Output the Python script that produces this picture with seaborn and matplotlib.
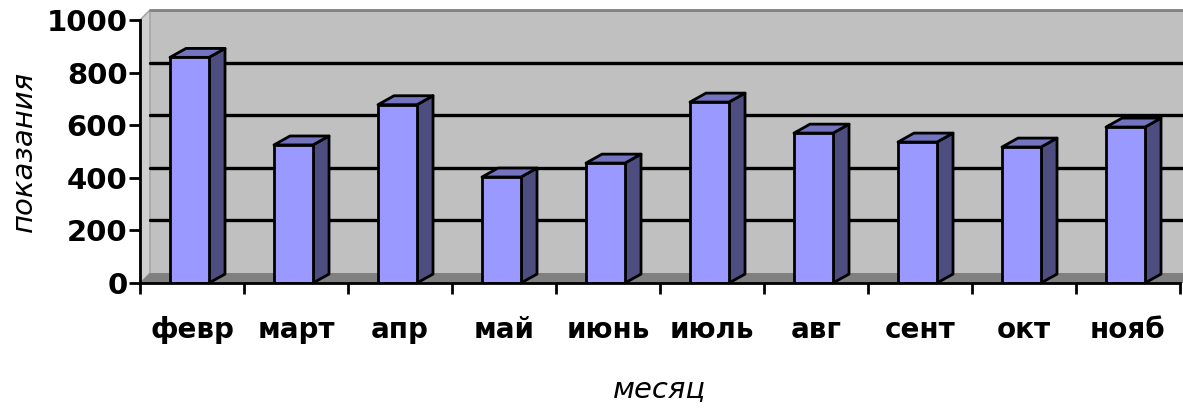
import numpy as np
import pandas as pd
import matplotlib
matplotlib.use("Agg")
import matplotlib.pyplot as plt
from matplotlib.patches import Polygon
import seaborn as sns

# data
months = ['февр', 'март', 'апр', 'май', 'июнь', 'июль', 'авг', 'сент', 'окт', 'нояб']
values = [858, 525, 678, 403, 456, 688, 570, 536, 517, 593]
y_ticks = [0, 200, 400, 600, 800, 1000]

df = pd.DataFrame({'month': months, 'value': values})

sns.set_style('white')
plt.rcParams['font.family'] = ['DejaVu Sans']
plt.rcParams['text.color'] = 'black'
plt.rcParams['axes.labelcolor'] = 'black'
plt.rcParams['xtick.color'] = 'black'
plt.rcParams['ytick.color'] = 'black'

fig = plt.figure(figsize=(11.83, 4.09), dpi=100)
ax = fig.add_axes([140 / 1183, 1 - 283 / 409, 1040 / 1183, 263 / 409])

# bars (front faces)
sns.barplot(data=df, x='month', y='value', width=0.375, color='#9999ff',
            saturation=1, edgecolor='black', linewidth=2, ax=ax, zorder=3)
bars = list(ax.patches)

# 3d look offsets (data units)
wall_dx, wall_dy = 0.096, 38
bar_dx, bar_dy = 0.154, 34

# walls and floor
x0, x1 = -0.5, 9.5
back = Polygon([(x0 + wall_dx, wall_dy), (x1 + 0.2, wall_dy), (x1 + 0.2, 1000 + wall_dy),
                (x0 + wall_dx, 1000 + wall_dy)], closed=True, facecolor='#c0c0c0',
               edgecolor='none', clip_on=False, zorder=0)
ax.add_patch(back)
ax.plot([x0 + wall_dx, x1 + 0.2], [1000 + wall_dy] * 2, color='#808080', lw=2,
        clip_on=False, zorder=1)
side = Polygon([(x0, 0), (x0 + wall_dx, wall_dy), (x0 + wall_dx, 1000 + wall_dy), (x0, 1000)],
               closed=True, facecolor='#cfcfcf', edgecolor='#a0a0a0', lw=1, clip_on=False, zorder=0.5)
ax.add_patch(side)
floor = Polygon([(x0, 0), (x1 + 0.2, 0), (x1 + 0.2, wall_dy), (x0 + wall_dx, wall_dy)],
                closed=True, facecolor='#808080', edgecolor='none', clip_on=False, zorder=0.6)
ax.add_patch(floor)
for v in y_ticks[1:-1]:
    ax.plot([x0 + wall_dx, x1 + 0.2], [v + wall_dy] * 2, color='black', lw=2.4,
            clip_on=False, zorder=1)

# side and top faces of each bar
for p in bars:
    bx, bw, bh = p.get_x() - 0.024, p.get_width(), p.get_height()
    p.set_x(bx)
    right = Polygon([(bx + bw, 0), (bx + bw + bar_dx, bar_dy), (bx + bw + bar_dx, bh + bar_dy),
                     (bx + bw, bh)], closed=True, facecolor='#4d4d80', edgecolor='black',
                    lw=2, zorder=2.9, joinstyle='round')
    top = Polygon([(bx, bh), (bx + bw, bh), (bx + bw + bar_dx, bh + bar_dy),
                   (bx + bar_dx, bh + bar_dy)], closed=True, facecolor='#7373bf',
                  edgecolor='black', lw=2, zorder=2.9, joinstyle='round')
    ax.add_patch(right)
    ax.add_patch(top)

ax.set_xlim(x0, x1)
ax.set_ylim(0, 1000)
ax.set_yticks(y_ticks)
ax.set_yticklabels([str(t) for t in y_ticks], fontsize=21, fontweight='heavy')
ax.set_xticks(range(len(months)))
ax.set_xticklabels(months, fontsize=20, fontweight='heavy')
ax.set_xticks(np.arange(-0.5, 10, 1), minor=True)
ax.tick_params(axis='x', which='major', length=0, pad=24)
ax.tick_params(axis='x', which='minor', length=8, width=2, direction='out', bottom=True)
ax.tick_params(axis='y', length=8, width=2, direction='out', pad=1, left=True)

for s in ['top', 'right']:
    ax.spines[s].set_visible(False)
for s in ['left', 'bottom']:
    ax.spines[s].set_color('black')
    ax.spines[s].set_linewidth(2)
    ax.spines[s].set_zorder(5)

ax.set_xlabel('месяц', fontsize=21, fontstyle='italic', labelpad=22)
ax.set_ylabel('показания', fontsize=21, fontstyle='italic', labelpad=6)
ax.patch.set_alpha(0)

fig.savefig('out.png', dpi=100)
